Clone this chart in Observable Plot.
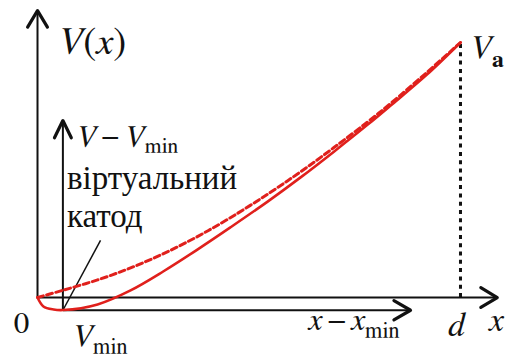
<!DOCTYPE html>
<html>
<head>
<meta charset="utf-8">
<script src="https://cdn.jsdelivr.net/npm/d3@7"></script>
<script src="https://cdn.jsdelivr.net/npm/@observablehq/plot@0.6"></script>
<style>
  body { margin: 0; background: #fff; }
  #chart svg { display: block; background: #fff; }
</style>
</head>
<body>
<div id="chart"></div>
<script>
// Potential V(x) between the cathode (x = 0) and the anode (x = d), in units of d and Va.
const d = 1;
const Va = 1;
// the potential minimum (virtual cathode)
const xMin = 0.06;
const Vmin = -0.05;

// profile without a virtual cathode (dashed)
const plainX = [0, 0.0615, 0.142, 0.220, 0.298, 0.378, 0.456, 0.544, 0.622, 0.700, 0.780, 0.835, 0.920, 1];
const plainV = [0, 0.029, 0.069, 0.116, 0.172, 0.239, 0.313, 0.405, 0.493, 0.587, 0.688, 0.761, 0.882, 1];

// profile with a virtual cathode (solid)
const vcX = [0, 0.014, 0.038, 0.061, 0.142, 0.220, 0.298, 0.378, 0.456, 0.544, 0.622, 0.700, 0.780, 0.835, 0.920, 1];
const vcV = [0, -0.035, -0.047, -0.049, -0.027, 0.028, 0.103, 0.188, 0.275, 0.376, 0.471, 0.571, 0.677, 0.753, 0.873, 1];

// extents of the two coordinate frames
const mainXEnd = 1.087, mainYEnd = 1.125;
const subXEnd = 0.882, subYEnd = 0.694;
// end of the leader line from the virtual-cathode caption
const leaderEnd = {x: 0.149, y: 0.224};

const W = 514, H = 359;
const xDomain = [-0.0875, 1.1277];
const yDomain = [-0.2431, 1.1647];

const plain = plainX.map((x, i) => ({x, V: plainV[i]}));
const vc = vcX.map((x, i) => ({x, V: vcV[i]}));

const axes = [
  {x1: 0, y1: 0, x2: 0, y2: mainYEnd, angle: 62},
  {x1: 0, y1: 0, x2: mainXEnd, y2: 0, angle: 62},
  {x1: xMin, y1: Vmin, x2: xMin, y2: subYEnd, angle: 52},
  {x1: xMin, y1: Vmin, x2: subXEnd, y2: Vmin, angle: 60}
];

// pixel mapping, used only to size the arrowhead insets
const sx = d3.scaleLinear(xDomain, [0, W]);
const sy = d3.scaleLinear(yDomain, [H, 0]);
const heads = axes.map(a => {
  const len = Math.hypot(sx(a.x2) - sx(a.x1), sy(a.y2) - sy(a.y1));
  return Plot.arrow([a], {
    x1: "x1", y1: "y1", x2: "x2", y2: "y2",
    stroke: "#111", strokeWidth: 3.2, headLength: 9, headAngle: a.angle,
    insetStart: len - 2
  });
});

const red = "#e0201c";
const mathFont = "FreeSerif, Liberation Serif, serif";
const textFont = "Liberation Serif, serif";
const thin = "\u2009";

// one text mark per label, anchored at the point it annotates
const label = (anchor, text, o) => Plot.text([anchor], {
  x: "x", y: "y", text: () => text, lineAnchor: "bottom", fill: "#111", fontFamily: mathFont, ...o
});

const chart = Plot.plot({
  width: W, height: H,
  margin: 0,
  x: {domain: xDomain, axis: null},
  y: {domain: yDomain, axis: null},
  marks: [
    // anode voltage marker
    Plot.ruleX([d], {y1: 0, y2: Va, stroke: "#111", strokeWidth: 3, strokeDasharray: "4,4.3"}),
    // axes
    Plot.link(axes, {x1: "x1", y1: "y1", x2: "x2", y2: "y2", stroke: "#111", strokeWidth: 2}),
    ...heads,
    // leader line to the potential minimum
    Plot.link([{x1: xMin, y1: Vmin, x2: leaderEnd.x, y2: leaderEnd.y}],
      {x1: "x1", y1: "y1", x2: "x2", y2: "y2", stroke: "#111", strokeWidth: 1.5}),
    // potential profiles
    Plot.line(plain, {x: "x", y: "V", stroke: red, strokeWidth: 3, strokeDasharray: "6,3.5", curve: "catmull-rom"}),
    Plot.line(vc, {x: "x", y: "V", stroke: red, strokeWidth: 2.6, curve: "catmull-rom"}),
    // labels
    label({x: 0, y: mainYEnd}, "V(x)", {textAnchor: "start", dx: 20, dy: 43, fontSize: 39}),
    label({x: 0, y: 0}, "0", {textAnchor: "middle", dx: -16, dy: 35, fontSize: 31}),
    label({x: xMin, y: Vmin}, "V_min", {textAnchor: "start", dx: 9, dy: 36, fontSize: 32}),
    label({x: subXEnd, y: Vmin}, `x${thin}−${thin}x_min`, {textAnchor: "start", dx: -102, dy: 20, fontSize: 32}),
    label({x: d, y: 0}, "d", {textAnchor: "middle", dx: -4, dy: 38, fontSize: 34}),
    label({x: mainXEnd, y: 0}, "x", {textAnchor: "middle", dx: -1, dy: 33, fontSize: 34}),
    label({x: d, y: Va}, "V_a", {textAnchor: "start", dx: 9, dy: 16, fontSize: 34}),
    label({x: xMin, y: subYEnd}, `V${thin}−${thin}V_min`, {textAnchor: "start", dx: 13, dy: 25, fontSize: 31}),
    label({x: xMin, y: subYEnd}, "віртуальний", {textAnchor: "start", dx: 4, dy: 68, fontSize: 33, fontFamily: textFont}),
    label({x: xMin, y: subYEnd}, "катод", {textAnchor: "start", dx: 4, dy: 106, fontSize: 33, fontFamily: textFont})
  ]
});

// Typeset the math labels: Latin letters italic, text after "_" as an upright subscript.
const NS = "http://www.w3.org/2000/svg";
chart.querySelectorAll("text").forEach(t => {
  const s = t.textContent;
  if (/[\u0400-\u04FF]/.test(s) || !/[A-Za-z]/.test(s)) return;
  const [base, sub] = s.split("_");
  t.textContent = "";
  for (const part of base.match(/[A-Za-z]+|[^A-Za-z]+/g)) {
    const ts = document.createElementNS(NS, "tspan");
    if (/[A-Za-z]/.test(part)) ts.setAttribute("font-style", "italic");
    ts.textContent = part;
    t.appendChild(ts);
  }
  if (sub) {
    const ts = document.createElementNS(NS, "tspan");
    ts.setAttribute("font-size", "0.7em");
    ts.setAttribute("dy", "0.36em");
    if (sub === "a") ts.setAttribute("font-weight", "bold");
    ts.textContent = sub;
    t.appendChild(ts);
  }
});

document.getElementById("chart").appendChild(chart);
</script>
</body>
</html>
